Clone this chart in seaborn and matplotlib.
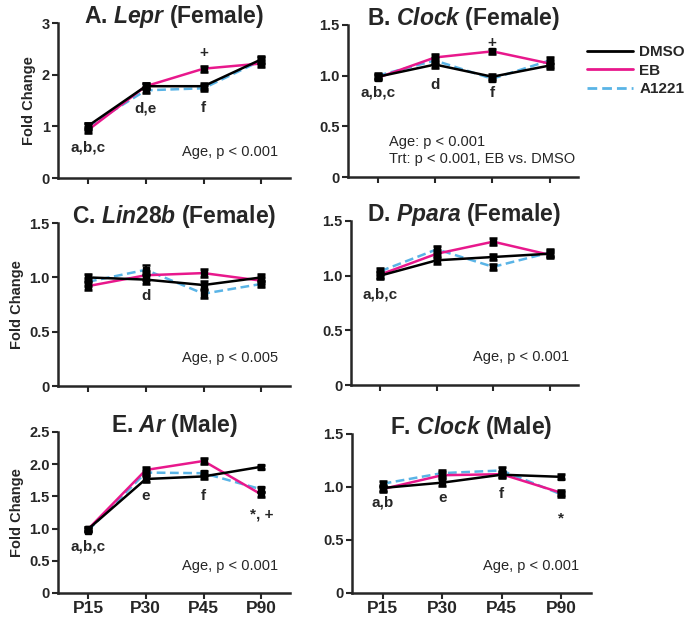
import numpy as np
import pandas as pd
import seaborn as sns
import matplotlib.pyplot as plt
from matplotlib.lines import Line2D

sns.set_style('ticks')
plt.rcParams['font.family'] = ['Liberation Sans', 'DejaVu Sans']
plt.rcParams['mathtext.fontset'] = 'custom'
plt.rcParams['mathtext.it'] = 'Liberation Sans:italic:bold'
plt.rcParams['mathtext.rm'] = 'Liberation Sans:bold'

ages = ['P15', 'P30', 'P45', 'P90']
groups = ['DMSO', 'EB', 'A1221']
colors = {'DMSO': 'black', 'EB': '#e8188c', 'A1221': '#5ab4e6'}

# panel A: Lepr (Female)
lepr_dmso = [1.01, 1.78, 1.78, 2.30]
lepr_eb = [0.93, 1.78, 2.12, 2.22]
lepr_a1221 = [1.00, 1.70, 1.74, 2.28]
lepr_err = [0.06, 0.06, 0.06, 0.07]

# panel B: Clock (Female)
clockf_dmso = [0.99, 1.11, 0.99, 1.10]
clockf_eb = [0.98, 1.18, 1.24, 1.12]
clockf_a1221 = [1.00, 1.15, 0.97, 1.15]
clockf_err = [0.025, 0.03, 0.025, 0.03]

# panel C: Lin28b (Female)
lin_dmso = [1.00, 0.98, 0.93, 1.00]
lin_eb = [0.92, 1.02, 1.04, 0.97]
lin_a1221 = [0.96, 1.07, 0.85, 0.94]
lin_err = [0.035, 0.04, 0.035, 0.03]

# panel D: Ppara (Female)
ppara_dmso = [1.00, 1.14, 1.17, 1.20]
ppara_eb = [1.01, 1.20, 1.31, 1.19]
ppara_a1221 = [1.04, 1.24, 1.08, 1.21]
ppara_err = [0.03, 0.035, 0.03, 0.03]

# panel E: Ar (Male)
ar_dmso = [0.99, 1.77, 1.81, 1.96]
ar_eb = [0.99, 1.91, 2.05, 1.53]
ar_a1221 = [0.97, 1.87, 1.86, 1.61]
ar_err = [0.03, 0.04, 0.04, 0.035]

# panel F: Clock (Male)
clockm_dmso = [0.99, 1.04, 1.115, 1.095]
clockm_eb = [0.98, 1.11, 1.12, 0.945]
clockm_a1221 = [1.03, 1.13, 1.155, 0.93]
clockm_err = [0.03, 0.03, 0.03, 0.025]

panels = [
    dict(title='A. $\\it{Lepr}$ (Female)', vals=[lepr_dmso, lepr_eb, lepr_a1221], err=lepr_err,
         ylim=3, yticks=[0, 1, 2, 3], ylabels=['0', '1', '2', '3'],
         notes=[(0, 0.6, 'a,b,c'), (1, 1.35, 'd,e'), (2, 1.35, 'f'), (2, 2.42, '+')],
         stat='Age, p < 0.001', stat_pos=(0.95, 0.17), stat_ha='right',
         rect=[0.0844, 0.7147, 0.338, 0.248]),
    dict(title='B. $\\it{Clock}$ (Female)', vals=[clockf_dmso, clockf_eb, clockf_a1221], err=clockf_err,
         ylim=1.5, yticks=[0, 0.5, 1.0, 1.5], ylabels=['0', '0.5', '1.0', '1.5'],
         notes=[(0, 0.83, 'a,b,c'), (1, 0.91, 'd'), (2, 0.83, 'f'), (2, 1.325, '+')],
         stat='Age: p < 0.001\nTrt: p < 0.001, EB vs. DMSO', stat_pos=(0.18, 0.175), stat_ha='left',
         rect=[0.5066, 0.716, 0.335, 0.244]),
    dict(title='C. $\\it{Lin28b}$ (Female)', vals=[lin_dmso, lin_eb, lin_a1221], err=lin_err,
         ylim=1.5, yticks=[0, 0.5, 1.0, 1.5], ylabels=['0', '0.5', '1.0', '1.5'],
         notes=[(1, 0.83, 'd')],
         stat='Age, p < 0.005', stat_pos=(0.95, 0.17), stat_ha='right',
         rect=[0.0844, 0.3814, 0.338, 0.261]),
    dict(title='D. $\\it{Ppara}$ (Female)', vals=[ppara_dmso, ppara_eb, ppara_a1221], err=ppara_err,
         ylim=1.5, yticks=[0, 0.5, 1.0, 1.5], ylabels=['0', '0.5', '1.0', '1.5'],
         notes=[(0, 0.83, 'a,b,c')],
         stat='Age, p < 0.001', stat_pos=(0.96, 0.17), stat_ha='right',
         rect=[0.511, 0.383, 0.33, 0.263]),
    dict(title='E. $\\it{Ar}$ (Male)', vals=[ar_dmso, ar_eb, ar_a1221], err=ar_err,
         ylim=2.5, yticks=[0, 0.5, 1.0, 1.5, 2.0, 2.5], ylabels=['0', '0.5', '1.0', '1.5', '2.0', '2.5'],
         notes=[(0, 0.72, 'a,b,c'), (1, 1.5, 'e'), (2, 1.5, 'f'), (3, 1.22, '*, +')],
         stat='Age, p < 0.001', stat_pos=(0.95, 0.17), stat_ha='right',
         rect=[0.0844, 0.0497, 0.338, 0.258]),
    dict(title='F. $\\it{Clock}$ (Male)', vals=[clockm_dmso, clockm_eb, clockm_a1221], err=clockm_err,
         ylim=1.5, yticks=[0, 0.5, 1.0, 1.5], ylabels=['0', '0.5', '1.0', '1.5'],
         notes=[(0, 0.85, 'a,b'), (1, 0.9, 'e'), (2, 0.93, 'f'), (3, 0.70, '*')],
         stat='Age, p < 0.001', stat_pos=(0.95, 0.17), stat_ha='right',
         rect=[0.512, 0.0497, 0.348, 0.255]),
]

fig = plt.figure(figsize=(6.87, 6.24), dpi=100)

for i, p in enumerate(panels):
    ax = fig.add_axes(p['rect'])
    rows = []
    for g, v in zip(groups, p['vals']):
        for a, y in zip(ages, v):
            rows.append({'age': a, 'fc': y, 'trt': g})
    df = pd.DataFrame(rows)
    sns.lineplot(data=df, x='age', y='fc', hue='trt', hue_order=['A1221', 'EB', 'DMSO'],
                 palette=colors, style='trt', dashes={'DMSO': '', 'EB': '', 'A1221': (3.5, 1.8)},
                 linewidth=1.8, legend=False, ax=ax, sort=False)
    for g, v in zip(groups, p['vals']):
        ax.errorbar(range(4), v, yerr=p['err'], fmt='s', color='black', markersize=4,
                    capsize=3, elinewidth=1.5, capthick=1.8, zorder=5)
    ax.set_xlim(-0.52, 3.5)
    ax.set_ylim(0, p['ylim'])
    ax.set_yticks(p['yticks'])
    ax.set_yticklabels(p['ylabels'], fontsize=10.5, fontweight='bold')
    ax.set_xticks(range(4))
    if i >= 4:
        ax.set_xticklabels(ages, fontsize=12.5, fontweight='bold')
    else:
        ax.set_xticklabels([])
    ax.set_xlabel('')
    if i % 2 == 0:
        ax.set_ylabel('Fold Change', fontsize=10.5, fontweight='bold', labelpad=4)
    else:
        ax.set_ylabel('')
    for s in ['left', 'bottom']:
        ax.spines[s].set_linewidth(1.8)
    sns.despine(ax=ax)
    ax.tick_params(width=1.5, length=4, pad=2)
    ax.text(0.5, 1.0, p['title'], transform=ax.transAxes, ha='center', va='baseline',
            fontsize=16.5, fontweight='bold')
    for x, y, t in p['notes']:
        ax.text(x, y, t, ha='center', va='center', fontsize=11, fontweight='bold')
    ax.text(p['stat_pos'][0], p['stat_pos'][1], p['stat'], transform=ax.transAxes,
            ha=p['stat_ha'], va='center', fontsize=10.5, linespacing=1.25)

handles = [Line2D([], [], color=colors['DMSO'], lw=2),
           Line2D([], [], color=colors['EB'], lw=2),
           Line2D([], [], color=colors['A1221'], lw=2, ls=(0, (3.5, 1.8)))]
fig.legend(handles, groups, loc='upper left', bbox_to_anchor=(0.835, 0.95), frameon=False,
           prop={'weight': 'bold', 'size': 11}, handlelength=3.0, handletextpad=0.4,
           labelspacing=0.3)

fig.savefig('out.png', dpi=100)
